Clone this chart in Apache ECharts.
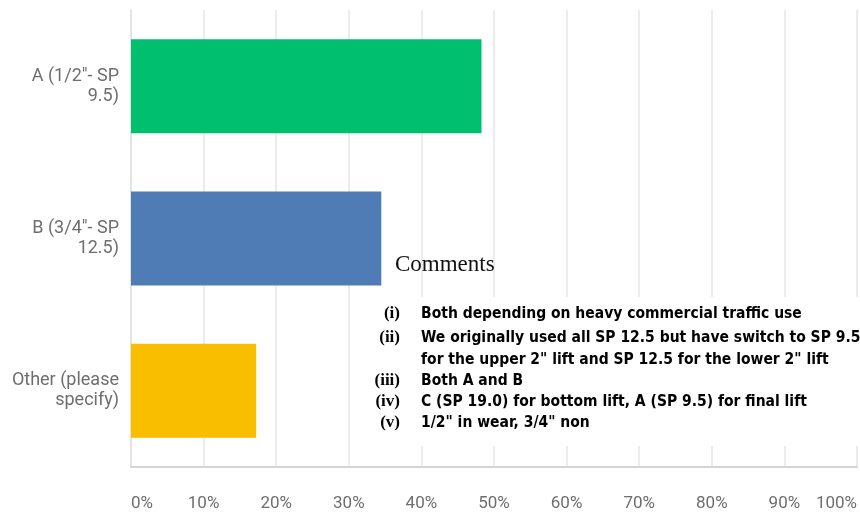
<!DOCTYPE html>
<html>
<head>
<meta charset="utf-8">
<script src="https://cdn.jsdelivr.net/npm/echarts@6/dist/echarts.min.js"></script>
<style>
html,body{margin:0;padding:0;background:#fff;}
#c{width:860px;height:512px;}
</style>
</head>
<body>
<div id="c"></div>
<script>
const categories = ['A (1/2"- SP\n9.5)', 'B (3/4"- SP\n12.5)', 'Other (please\nspecify)'];
const values = [48.28, 34.48, 17.24];
const barColors = ['#00BF6F', '#507CB6', '#F9BE00'];
const tickValues = [0, 10, 20, 30, 40, 50, 60, 70, 80, 90, 100];
const commentsTitle = 'Comments';
const commentNumerals = ['(i)', '(ii)', '', '(iii)', '(iv)', '(v)'];
const commentLines = [
  'Both depending on heavy commercial traffic use',
  'We originally used all SP 12.5 but have switch to SP 9.5',
  'for the upper 2" lift and SP 12.5 for the lower 2" lift',
  'Both A and B',
  'C (SP 19.0) for bottom lift, A (SP 9.5) for final lift',
  '1/2" in wear, 3/4" non'
];

const chart = echarts.init(document.getElementById('c'), null, {renderer: 'canvas'});
const lineYs = [314, 338, 360, 381, 402, 423];
const graphics = [
  {type: 'rect', z: 10, shape: {x: 366, y: 297, width: 494, height: 149}, style: {fill: '#ffffff'}},
  {type: 'text', z: 11, left: 395, top: 253,
   style: {text: commentsTitle, font: '23px "Liberation Serif", serif', fill: '#111'}}
];
commentLines.forEach((t, i) => {
  if (commentNumerals[i]) {
    graphics.push({type: 'text', z: 11, x: 400, y: lineYs[i],
      style: {text: commentNumerals[i], font: 'bold 17px "Liberation Serif", serif', fill: '#000', align: 'right', verticalAlign: 'middle'}});
  }
  graphics.push({type: 'text', z: 11, x: 421, y: lineYs[i],
    style: {text: t, font: 'bold 15.5px "Liberation Sans Narrow", "DejaVu Sans Condensed", sans-serif', fill: '#000', align: 'left', verticalAlign: 'middle'}});
});

chart.setOption({
  animation: false,
  grid: {left: 131, right: 3, top: 10, bottom: 45, containLabel: false},
  xAxis: {
    type: 'value', min: tickValues[0], max: tickValues[tickValues.length - 1], interval: 10,
    axisLine: {show: true, lineStyle: {color: '#d4d4d4', width: 2}},
    axisTick: {show: false},
    splitLine: {show: true, lineStyle: {color: '#ececec', width: 2}},
    axisLabel: {
      formatter: '{value}%', color: '#6e6e6e', fontSize: 17, fontFamily: 'Roboto, sans-serif',
      margin: 28, alignMinLabel: 'left', alignMaxLabel: 'right'
    }
  },
  yAxis: {
    type: 'category', data: categories, inverse: true,
    axisLine: {show: true, lineStyle: {color: '#e4e4e4', width: 2}},
    axisTick: {show: false},
    axisLabel: {color: '#6e6e6e', fontSize: 18, lineHeight: 20, fontFamily: 'Roboto, sans-serif', margin: 12, align: 'right'}
  },
  series: [{
    type: 'bar', barWidth: 94,
    data: values.map((v, i) => ({value: v, itemStyle: {color: barColors[i]}})),
    label: {show: false}
  }],
  graphic: graphics
});
</script>
</body>
</html>
